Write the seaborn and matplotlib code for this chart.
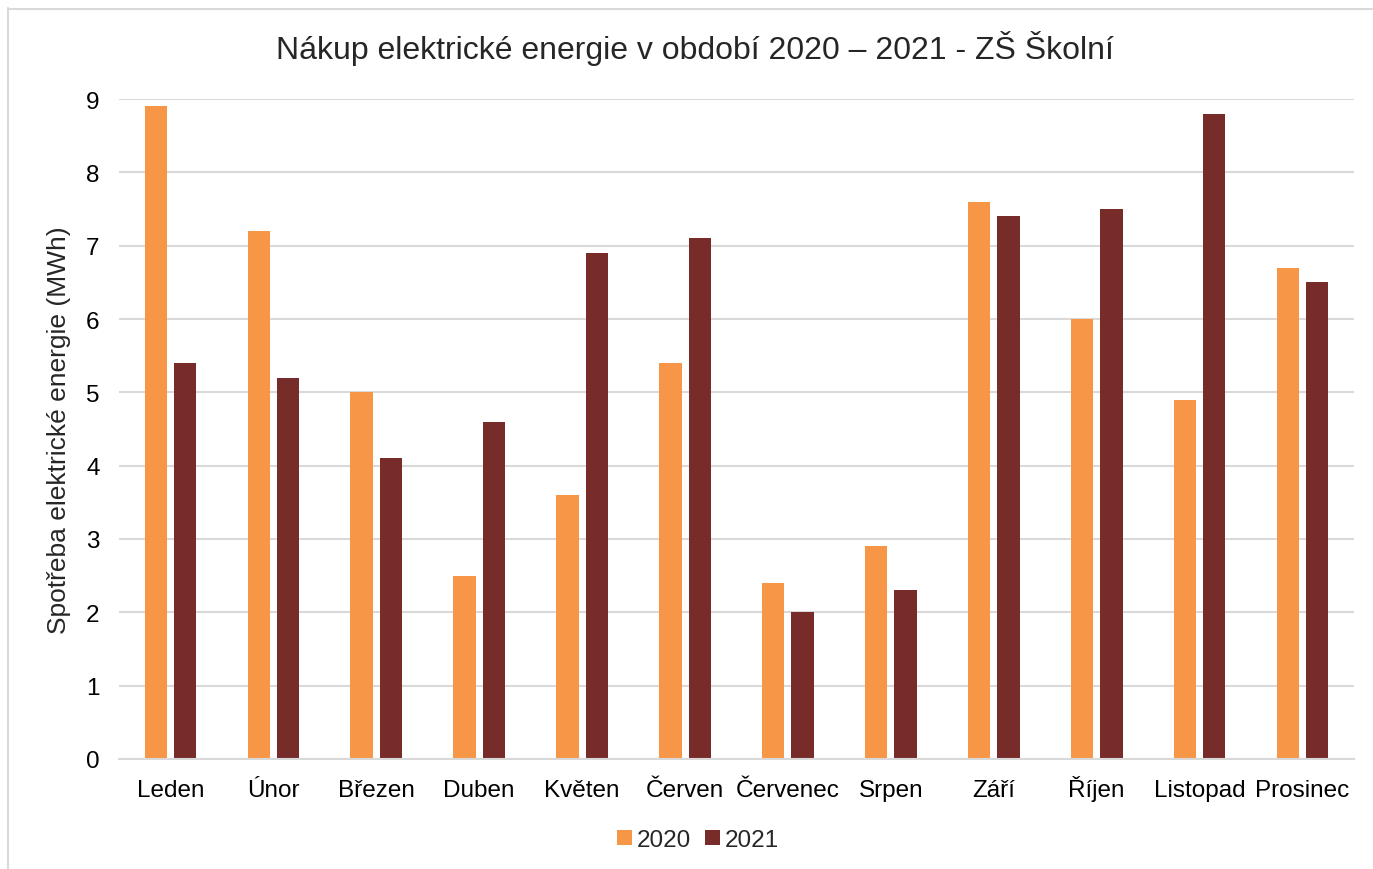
import matplotlib
matplotlib.use("Agg")
import matplotlib.pyplot as plt
from matplotlib.lines import Line2D
from matplotlib.patches import Patch
import seaborn as sns
import pandas as pd

months = ["Leden", "Únor", "Březen", "Duben", "Květen", "Červen", "Červenec",
          "Srpen", "Září", "Říjen", "Listopad", "Prosinec"]
years = ["2020", "2021"]
values_2020 = [8.9, 7.2, 5.0, 2.5, 3.6, 5.4, 2.4, 2.9, 7.6, 6.0, 4.9, 6.7]
values_2021 = [5.4, 5.2, 4.1, 4.6, 6.9, 7.1, 2.0, 2.3, 7.4, 7.5, 8.8, 6.5]
colors = ["#F79646", "#772C2A"]

df = pd.DataFrame({
    "Měsíc": months * 2,
    "Rok": [years[0]] * len(months) + [years[1]] * len(months),
    "Spotřeba": values_2020 + values_2021,
})

sns.set_theme(style="white")
plt.rcParams["font.family"] = ["Liberation Sans", "DejaVu Sans"]

fig = plt.figure(figsize=(13.73, 8.70), dpi=100)
ax = fig.add_axes([119 / 1373, 1 - 760 / 870, 1235 / 1373, 660 / 870])

sns.barplot(data=df, x="Měsíc", y="Spotřeba", hue="Rok", order=months,
            hue_order=years, palette=colors, width=0.57, gap=0.24,
            saturation=1, legend=False, ax=ax, errorbar=None, linewidth=0)

ax.set_ylim(0, 9)
ax.set_xlim(-0.5, len(months) - 0.5)
ax.set_yticks(range(0, 10))
ax.yaxis.grid(True, color="#D9D9D9", linewidth=1.5)
ax.set_axisbelow(True)
for s in ["top", "right", "left"]:
    ax.spines[s].set_visible(False)
ax.spines["bottom"].set_color("#D9D9D9")
ax.spines["bottom"].set_linewidth(1.5)
ax.tick_params(axis="both", length=0, labelsize=17.5, colors="black")
ax.tick_params(axis="y", pad=14)
ax.tick_params(axis="x", pad=26.5)
for lab in ax.get_xticklabels():
    lab.set_va("baseline")
ax.set_xlabel("")
ax.set_ylabel("Spotřeba elektrické energie (MWh)", fontsize=19, labelpad=11)

fig.text(695 / 1373, 1 - 48 / 870, "Nákup elektrické energie v období 2020 – 2021 - ZŠ Školní",
         ha="center", va="center", fontsize=23)

handles = [Patch(facecolor=c, edgecolor="none", label=y) for c, y in zip(colors, years)]
fig.legend(handles=handles, loc="center", bbox_to_anchor=(698 / 1373, 1 - 841 / 870),
           ncol=2, frameon=False, fontsize=17.5, handlelength=0.6, handleheight=0.6,
           handletextpad=0.2, columnspacing=0.6)

# chart frame
fig.add_artist(Line2D([7.5 / 1373, 7.5 / 1373], [1 - 9 / 870, 0], color="#D9D9D9",
                      linewidth=1.5, transform=fig.transFigure))
fig.add_artist(Line2D([7.5 / 1373, 1], [1 - 9.5 / 870, 1 - 9.5 / 870], color="#D9D9D9",
                      linewidth=1.5, transform=fig.transFigure))

fig.savefig("out.png", dpi=100, facecolor="white")
